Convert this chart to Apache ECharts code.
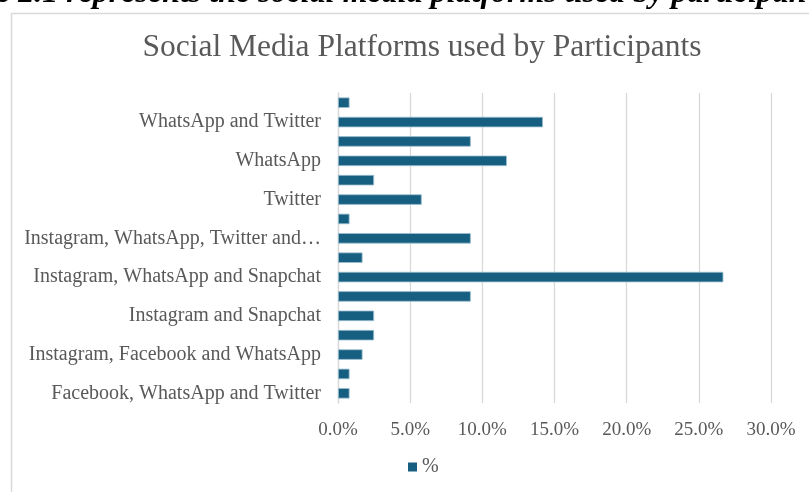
<!DOCTYPE html>
<html>
<head>
<meta charset="utf-8">
<script src="https://cdn.jsdelivr.net/npm/echarts@6/dist/echarts.min.js"></script>
<style>html,body{margin:0;padding:0;background:#fff;}#c{width:809px;height:492px;}</style>
</head>
<body>
<div id="c"></div>
<script>
// Categories listed bottom to top (as drawn)
const categories = [
  "Facebook, WhatsApp and Twitter",
  "Facebook and WhatsApp",
  "Instagram, Facebook and WhatsApp",
  "Instagram",
  "Instagram and Snapchat",
  "Instagram and WhatsApp",
  "Instagram, WhatsApp and Snapchat",
  "Instagram, WhatsApp and Twitter",
  "Instagram, WhatsApp, Twitter and Snapchat",
  "Snapchat",
  "Twitter",
  "Twitter and Snapchat",
  "WhatsApp",
  "WhatsApp and Snapchat",
  "WhatsApp and Twitter",
  "WhatsApp, Twitter and Snapchat"
];
const percentValues = [0.8, 0.8, 1.7, 2.5, 2.5, 9.2, 26.7, 1.7, 9.2, 0.8, 5.8, 2.5, 11.7, 9.2, 14.2, 0.8];
const seriesName = "%";
const titleText = "Social Media Platforms used by Participants";
const captionText = "e 2.1 represents the social media platforms used by participan";

const serif = "'Liberation Serif', 'Times New Roman', serif";
const chart = echarts.init(document.getElementById('c'), null, {renderer: 'canvas'});
chart.setOption({
  animation: false,
  backgroundColor: '#fff',
  title: {
    text: titleText,
    left: 417, top: 27, textAlign: 'center',
    textStyle: {fontFamily: serif, fontSize: 31.5, fontWeight: 'normal', color: '#595959'}
  },
  graphic: [
    {type: 'rect', shape: {x: 11.5, y: 13.5, width: 820, height: 500}, style: {fill: 'none', stroke: '#d9d9d9', lineWidth: 1.5}, silent: true},
    {type: 'text', left: -4, top: -22, style: {text: captionText, font: "italic bold 32px 'Liberation Serif'", fill: '#000'}, silent: true}
  ],
  legend: {
    data: [seriesName], bottom: 10, left: 403,
    icon: 'rect', itemWidth: 9, itemHeight: 9, itemGap: 5,
    itemStyle: {borderWidth: 0},
    textStyle: {fontFamily: serif, fontSize: 20, color: '#595959'}
  },
  grid: {left: 338, right: 38, top: 93, bottom: 89, containLabel: false},
  xAxis: {
    type: 'value', min: 0, max: 30, interval: 5,
    axisLine: {show: false}, axisTick: {show: false},
    splitLine: {lineStyle: {color: '#d9d9d9', width: 1.3}},
    axisLabel: {
      formatter: v => v.toFixed(1) + '%', margin: 18,
      fontFamily: serif, fontSize: 19, color: '#595959'
    }
  },
  yAxis: {
    type: 'category', data: categories,
    axisLine: {show: true, lineStyle: {color: '#d9d9d9', width: 1.3}},
    axisTick: {show: false},
    axisLabel: {
      interval: 1, margin: 17, width: 300, overflow: 'truncate', ellipsis: '…',
      fontFamily: serif, fontSize: 20, color: '#595959'
    }
  },
  series: [{
    name: seriesName, type: 'bar', data: percentValues,
    barCategoryGap: '46%',
    itemStyle: {color: '#175f80', borderColor: '#9cbfd0', borderWidth: 0.8}
  }]
});
</script>
</body>
</html>
